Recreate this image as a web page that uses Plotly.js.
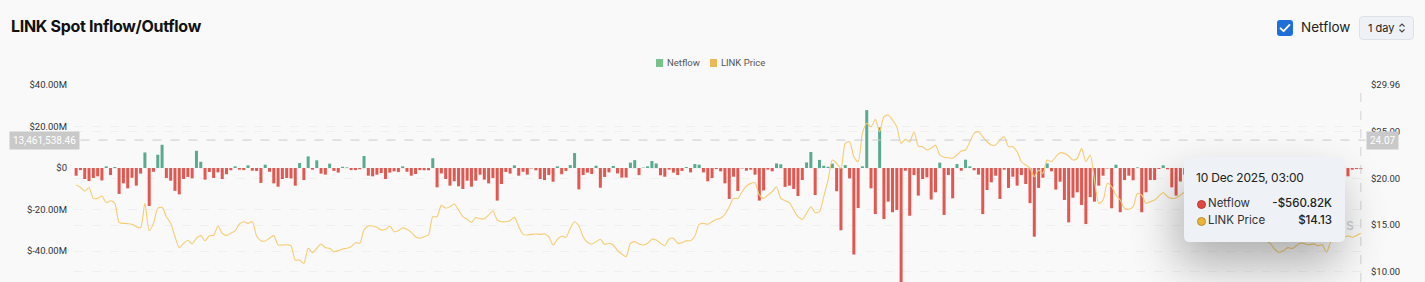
<!DOCTYPE html>
<html><head><meta charset="utf-8">
<script src="https://cdn.plot.ly/plotly-3.0.1.min.js"></script>
<style>
html,body{margin:0;padding:0;width:1425px;height:282px;overflow:hidden;background:#f9f9f9;font-family:Inter,"Noto Sans",sans-serif;}
#wrap{position:relative;width:1425px;height:282px;overflow:hidden;}
#chart{position:absolute;left:0;top:0;width:1425px;height:320px;}
.ov{position:absolute;z-index:10;}
#title{left:11px;top:16px;font-size:16px;font-weight:700;color:#111;letter-spacing:-0.3px;}
#cb{left:1277px;top:20px;width:16px;height:16px;background:#1f6fd6;border-radius:3px;}
#cblabel{left:1301px;top:19px;font-size:13.5px;color:#222;}
#sel{left:1359px;top:16px;width:53px;height:22px;background:#eef1f5;border:1px solid #dfe3e8;border-radius:4px;font-size:11px;color:#222;}
#legend{left:656px;top:57px;font-size:9.5px;color:#555;display:flex;align-items:center;font-family:Roboto,Inter,sans-serif;}
.sq{display:inline-block;width:7px;height:8px;margin-right:4px;}
#wm{left:1346px;top:215px;font-size:15px;color:#cdcdcd;z-index:5;}
#tip{left:1184px;top:157px;width:161px;height:85px;background:#eef1f5;border-radius:5px;box-shadow:-6px 22px 46px rgba(0,0,0,0.30);color:#222;}
.dot{position:absolute;border-radius:50%;}
.t{position:absolute;font-size:11.5px;white-space:nowrap;}
</style></head>
<body>
<div id="wrap">
<div id="chart"></div>
<div class="ov" id="title">LINK Spot Inflow/Outflow</div>
<div class="ov" id="cb"><svg width="16" height="16" viewBox="0 0 16 16"><path d="M3.5 8.3 L6.6 11.2 L12.5 4.9" stroke="#fff" stroke-width="1.8" fill="none" stroke-linecap="round" stroke-linejoin="round"/></svg></div>
<div class="ov" id="cblabel">Netflow</div>
<div class="ov" id="sel"><span style="position:absolute;left:8px;top:4px;">1 day</span><svg style="position:absolute;left:38px;top:5px" width="8" height="12" viewBox="0 0 8 12"><path d="M1.5 4.5 L4 2 L6.5 4.5 M1.5 7.5 L4 10 L6.5 7.5" stroke="#444" stroke-width="1.1" fill="none"/></svg></div>
<div class="ov" id="legend"><span class="sq" style="background:#74c48c"></span><span style="margin-right:10px">Netflow</span><span class="sq" style="background:#ebb955"></span><span>LINK Price</span></div>
<div class="ov" id="wm">s</div>
<div class="ov" id="tip">
  <div class="t" style="left:12px;top:13px;font-size:12px;letter-spacing:-0.2px;">10 Dec 2025, 03:00</div>
  <div class="dot" style="left:13px;top:43px;background:#e0493f;border:1px solid #b83a33;width:7px;height:7px;"></div>
  <div class="t" style="left:24px;top:39px;color:#333">Netflow</div>
  <div class="t" style="right:13px;top:39px;font-weight:500">-$560.82K</div>
  <div class="dot" style="left:13px;top:60px;background:#e8b43a;border:1px solid #b98e2b;width:7px;height:7px;"></div>
  <div class="t" style="left:24px;top:56px;color:#333">LINK Price</div>
  <div class="t" style="right:13px;top:56px;font-weight:500">$14.13</div>
</div>
</div>
<script>
// Daily netflow, millions USD (last point = 10 Dec 2025)
const netflowM = [
 -3.7,-1.0,-5.3,-6.3,-4.8,-4.0,-6.0,0.8,-3.4,0.5,
 -12.5,-7.4,-9.8,-4.7,-8.5,-2.7,7.5,-18.3,-1.8,6.4,
 11.2,-4.8,-6.1,-11.0,-12.7,-5.3,-4.3,-5.0,8.3,3.0,
 -5.6,-1.9,-4.8,-2.1,-5.3,-3.0,-1.1,0.8,-0.8,-1.0,
 1.3,-1.3,-1.4,-7.2,1.6,-1.8,-7.4,-9.0,-5.3,-4.8,
 -5.0,-8.5,2.4,-5.8,5.6,-0.8,3.7,-2.7,-3.2,2.1,
 -1.4,-2.2,0.6,0.3,-1.0,-1.0,-0.6,5.8,-3.7,-4.0,
 -3.2,-2.4,-5.3,-2.2,-1.6,-1.9,0.8,-1.8,-3.7,-2.9,
 -1.0,-1.1,-1.1,4.7,-9.3,-2.6,-5.3,-8.5,-6.4,-8.8,
 -10.1,-6.1,-9.0,-6.1,-3.2,-5.6,-7.4,-4.8,-15.7,-7.7,
 -1.9,-2.7,1.3,-3.7,-1.8,-3.2,-0.2,-1.1,-5.3,-5.8,
 -3.4,-6.6,0.8,-3.0,-1.4,1.4,7.2,-10.3,-3.4,-2.2,
 -2.9,1.1,-9.5,-4.3,-2.1,1.0,-2.6,-4.6,-4.6,2.6,
 3.8,-3.4,0.2,0.8,3.4,2.2,-3.5,-4.2,-0.8,-2.2,
 -3.4,-1.4,0.5,-2.1,1.9,1.6,-2.1,-6.4,-4.8,-0.5,
 -1.6,-7.4,-14.9,-4.2,-11.1,-0.2,-1.3,-0.8,-3.2,-15.7,
 -10.8,-0.8,-1.6,2.2,1.8,-9.1,-8.5,-10.1,-13.5,-5.8,
 2.7,7.7,-13.0,3.9,1.1,0.6,2.1,-11.2,-30.0,1.4,
 -5.0,-41.7,-19.3,0.8,27.9,-9.8,-22.2,19.6,-24.6,-16.2,
 -21.3,-20.2,-58.0,-1.3,-23.0,-3.4,-13.3,-5.3,-4.5,-15.2,
 -11.7,2.6,-22.6,-3.4,-14.6,1.9,-1.3,4.0,0.8,-1.1,
 -3.2,-22.2,-10.6,-6.9,-3.7,-14.9,-0.8,-9.6,-4.2,-8.5,
 -3.4,-7.7,-16.9,-33.1,-9.6,-4.7,2.2,-1.6,-10.4,-6.6,
 -15.4,-26.2,-14.3,-11.7,-17.8,-27.0,-14.0,-16.2,-8.5,-3.7,
 -0.2,-19.4,1.6,-21.3,-5.8,-3.7,-5.9,0.3,-21.3,
 -11.7,-5.8,-5.8,-0.5,1.3,-0.6,-9.3,-13.3,
 -6.5,-3.2,-10.8,-4.1,-1.5,-7.9,-12.4,-2.8,-5.6,0.9,
 -8.7,-3.9,-14.2,-6.1,-2.3,-9.5,-4.4,1.2,-7.1,-11.6,
 -3.0,-5.2,-8.3,-1.8,-4.9,-13.1,-6.8,-2.6,0.7,-9.9,
 -4.3,-7.6,-3.5,-10.2,-5.4,-1.2,-6.3,-2.9,
 0.5,-4.0,-0.8,-0.5,-0.56
];
// LINK price, USD
const priceUSD = [
 19.28,19.04,18.64,18.99,17.86,17.86,18.11,17.4,17.61,17.33,
 15.26,15.19,15.16,15.09,14.84,14.73,17.33,14.41,15.19,16.8,
 16.9,15.9,15.19,13.77,12.6,13.06,13.38,12.99,13.6,13.88,
 13.34,13.88,13.91,14.91,14.13,13.91,14.13,14.38,15.12,15.37,
 15.19,15.37,13.84,13.34,13.31,13.6,13.88,12.88,12.88,12.9,
 12.81,11.28,11.28,10.93,12.53,12.06,12.53,12.99,12.6,12.53,
 12.17,12.28,12.45,12.53,12.7,13.13,13.06,14.48,14.91,14.91,
 14.77,14.48,14.55,14.91,14.3,14.41,14.73,14.55,14.23,13.77,
 13.6,13.77,13.95,15.9,15.9,17.15,16.8,16.97,17.26,16.62,
 15.9,15.62,15.3,15.8,15.69,15.69,16.08,16.54,15.55,15.37,
 15.37,15.48,15.83,14.84,14.02,13.95,14.02,14.06,14.02,14.06,
 13.77,12.88,13.49,13.84,13.7,14.66,15.37,14.91,13.77,13.17,
 12.99,13.24,13.49,12.95,13.06,12.88,12.28,11.92,11.63,13.06,
 13.24,12.99,12.88,13.06,13.49,13.42,13.06,12.81,13.52,13.6,
 13.06,13.13,13.34,13.34,13.84,15.09,15.19,15.09,15.37,15.62,
 15.73,16.16,16.97,17.86,17.86,18.57,19.18,19.46,19.53,18.22,
 17.86,18.22,18.57,19.1,17.86,17.61,17.4,16.62,15.9,15.62,
 16.26,16.97,16.33,16.44,18.04,19.82,21.95,21.6,21.07,23.73,
 23.9,22.3,21.77,24.8,25.87,25.5,26.29,24.97,26.58,26.76,
 26.22,25.5,23.73,24.16,23.9,24.97,23.45,23.38,23.02,23.2,
 23.55,22.49,22.25,22.2,22.14,22.49,22.91,23.02,23.9,24.8,
 24.97,24.44,23.9,23.55,23.55,24.09,24.44,23.38,23.38,22.84,
 21.77,21.42,21.07,20.17,20.89,20.53,21.95,21.77,22.3,22.73,
 22.66,22.38,21.95,22.14,23.2,21.77,22.49,19.82,17.33,17.68,
 19.46,19.1,18.22,17.68,16.8,16.69,16.97,18.4,18.22,
 17.33,17.5,17.68,18.1,18.47,18.04,17.86,17.9,
 18.2,18.5,18.1,17.6,17.2,16.9,16.5,16.8,16.3,15.9,
 15.6,15.8,15.2,14.9,14.6,14.8,14.3,14.0,13.7,13.5,13.3,
 13.0,12.4,12.1,12.3,12.6,12.5,12.8,13.1,13.0,12.9,
 13.0,12.8,12.9,12.1,13.2,13.6,13.9,
 13.7,13.85,13.7,13.9,14.13
];
const endDate = '2025-12-10';
const leftTickVals = [40, 20, 0, -20, -40];
const leftTickText = ['$40.00M', '$20.00M', '$0', '$-20.00M', '$-40.00M'];
const rightTickVals = [29.96, 25, 20, 15, 10];
const rightTickText = ['$29.96', '$25.00', '$20.00', '$15.00', '$10.00'];
const crossNetflowLabel = '13,461,538.46';
const crossNetflowM = 13.46153846;
const crossPrice = 24.07;

const N = netflowM.length;
const DAY = 86400000;
const endMs = Date.parse(endDate + 'T00:00:00Z');
const dates = netflowM.map((_, i) => new Date(endMs - (N - 1 - i) * DAY).toISOString().slice(0, 10));
const barColors = netflowM.map(v => v >= 0 ? '#5aaa8f' : '#e25850');

const font = 'Roboto, Inter, sans-serif';
const traces = [
  {type: 'bar', x: dates, y: netflowM, name: 'Netflow', marker: {color: barColors, line: {width: 0}}, hoverinfo: 'skip'},
  {type: 'scatter', mode: 'lines', x: dates, y: priceUSD.slice(0, N), name: 'LINK Price', yaxis: 'y2',
   line: {color: '#f6cd72', width: 1.1, shape: 'spline', smoothing: 0.7}, hoverinfo: 'skip'}
];
const layout = {
  width: 1425, height: 320,
  paper_bgcolor: '#f9f9f9', plot_bgcolor: '#f9f9f9',
  margin: {l: 73.5, r: 62, t: 85, b: 20, pad: 0},
  showlegend: false, bargap: 0.3,
  font: {family: font, size: 10, color: '#333'},
  xaxis: {type: 'date', range: [endMs - (N - 0.5) * DAY, endMs + 0.5 * DAY], showgrid: false, zeroline: false,
          showticklabels: false, showline: false, ticks: ''},
  yaxis: {range: [-63.6, 40], tickvals: leftTickVals, ticktext: leftTickText, showgrid: true,
          gridcolor: '#efefef', griddash: 'dash', gridwidth: 1, zeroline: false, ticks: '',
          ticklabelstandoff: 6, tickfont: {size: 9.5, color: '#333', family: font}},
  yaxis2: {range: [7.01, 29.96], overlaying: 'y', side: 'right', tickvals: rightTickVals, ticktext: rightTickText,
           showgrid: true, gridcolor: '#efefef', griddash: 'dash', gridwidth: 1, zeroline: false, ticks: '',
           ticklabelstandoff: 7, tickfont: {size: 9.5, color: '#333', family: font}},
  shapes: [
    {type: 'line', xref: 'paper', x0: 0.005, x1: 1.002, yref: 'y', y0: crossNetflowM, y1: crossNetflowM,
     line: {color: '#cacaca', width: 1, dash: 'dash'}},
    {type: 'line', xref: 'x', x0: dates[N - 1], x1: dates[N - 1], yref: 'paper', y0: 0, y1: 1,
     line: {color: '#d2d2d2', width: 1, dash: 'dash'}}
  ],
  annotations: [
    {xref: 'paper', x: 0.005, xanchor: 'right', yref: 'y', y: crossNetflowM, yanchor: 'middle',
     text: crossNetflowLabel, showarrow: false, bgcolor: '#c9c9c9', borderpad: 3,
     font: {color: '#ffffff', size: 10, family: font}},
    {xref: 'paper', x: 1.0023, xanchor: 'left', yref: 'y2', y: crossPrice, yanchor: 'middle',
     text: crossPrice.toFixed(2), showarrow: false, bgcolor: '#c9c9c9', borderpad: 3,
     font: {color: '#ffffff', size: 10, family: font}}
  ]
};
Plotly.newPlot('chart', traces, layout, {displayModeBar: false, staticPlot: true});
</script>
</body></html>
